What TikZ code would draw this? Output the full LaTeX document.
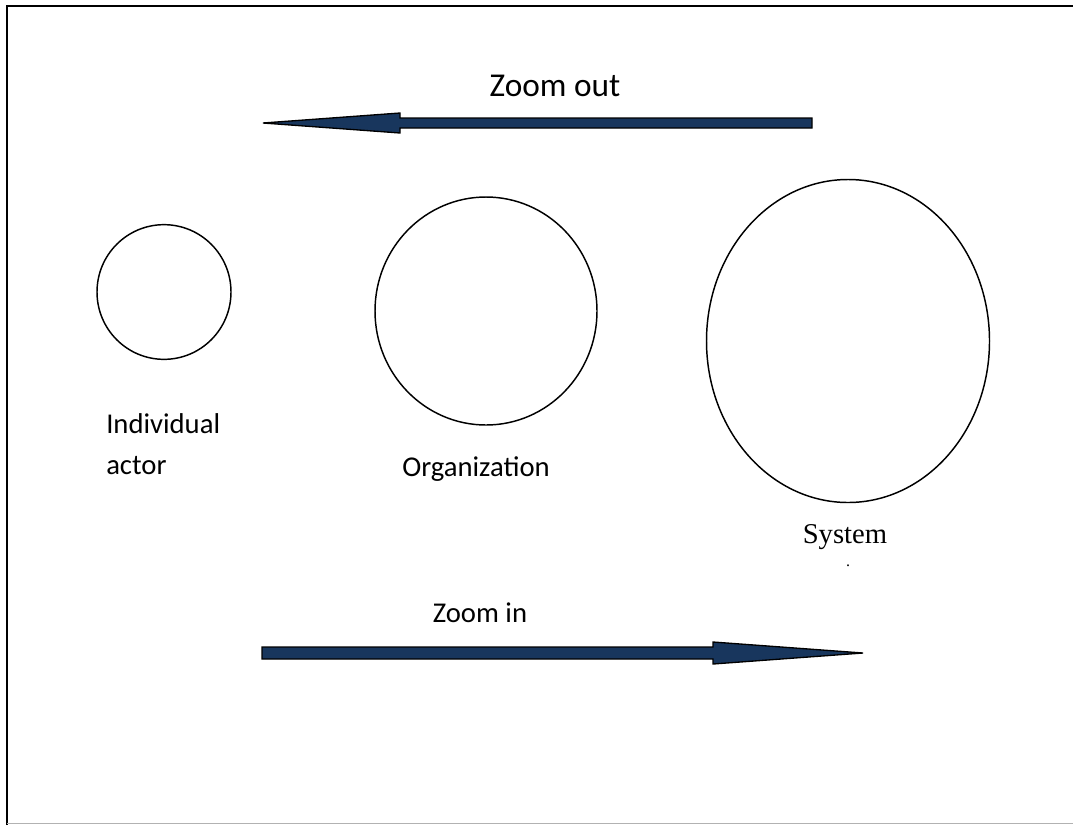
\documentclass[tikz,border=0pt]{standalone}
\usepackage{fontspec}
\setmainfont{Carlito}
\newfontfamily\seriffont{Liberation Serif}
\usetikzlibrary{shapes.geometric}
\definecolor{navy}{RGB}{24,54,93}
\tikzset{
  ring/.style={ellipse, draw, line width=1.1pt, inner sep=0pt},
  blockarrow/.style={fill=navy, draw=black, line width=1pt, line join=miter},
  lbl/.style={font=\fontsize{21.5}{26}\selectfont, inner sep=0pt}
}
\begin{document}
\begin{tikzpicture}[x=0.75pt, y=-0.75pt]
    \useasboundingbox (0,0) rectangle (1073,825);
    \draw[line width=1.5pt] (7,825)--(7,6)--(1073,6);
    \draw[black!30, line width=0.75pt] (7,823)--(1073,823);
    % three levels
    \node[ring, minimum width=100.5pt, minimum height=101pt] (actor) at (164,292) {};
    \node[ring, minimum width=166.5pt, minimum height=171pt] (org) at (486,311) {};
    \node[ring, minimum width=212.25pt, minimum height=242.25pt] (sys) at (848,341) {};
    \node[lbl, anchor=base west] (indiv) at (106,433) {Individual};
    \node[lbl, anchor=base west] (actortxt) at (106,474) {actor};
    \node[lbl, anchor=base] (orgtxt) at (476,476) {Organization};
    \node[lbl, anchor=base, font=\seriffont\fontsize{21.5}{26}\selectfont] (systxt) at (845,543) {System};
    \node[inner sep=0pt, font=\seriffont\fontsize{12}{12}\selectfont] (sysdot) at (848,566) {.};
    % zoom arrows
    \node[lbl, anchor=base, font=\fontsize{25}{30}\selectfont] (outtxt) at (555,96) {Zoom out};
    \coordinate (outtail) at (812,123);
    \coordinate (outtip) at (263,123);
    \draw[blockarrow] (outtail)++(0,-5)--++(-412,0)--++(0,-5)--(outtip)--(400,133)--++(0,-5)--(812,128)--cycle;
    \node[lbl, anchor=base] (intxt) at (480,622) {Zoom in};
    \coordinate (intail) at (262,653);
    \coordinate (intip) at (863,653);
    \draw[blockarrow] (intail)++(0,-6)--++(451,0)--++(0,-5)--(intip)--(713,664)--++(0,-5)--(262,659)--cycle;
\end{tikzpicture}
\end{document}
